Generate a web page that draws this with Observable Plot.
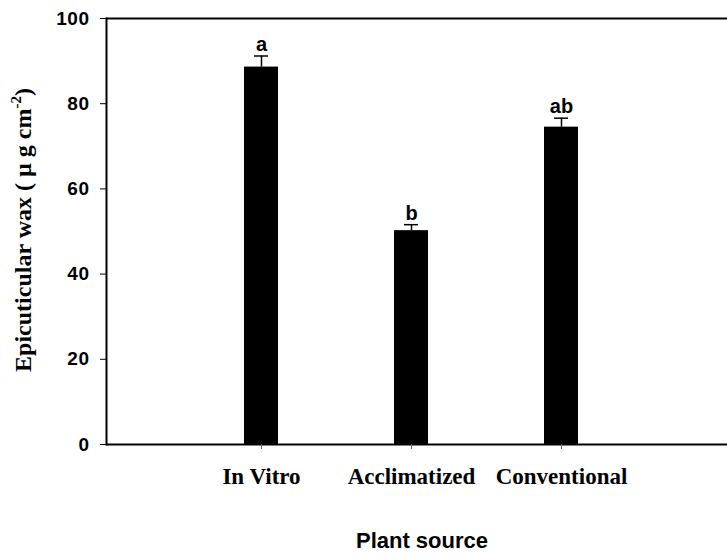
<!DOCTYPE html>
<html><head><meta charset="utf-8">
<script src="https://cdn.jsdelivr.net/npm/d3@7"></script>
<script src="https://cdn.jsdelivr.net/npm/@observablehq/plot@0.6"></script>
<style>
body{margin:0;background:#fff}
g[aria-label="y-axis tick label"] text{letter-spacing:0.5px}
</style>
</head><body><div id="chart"></div>
<script>
const categories = ["In Vitro", "Acclimatized", "Conventional"];
const means = [88.6, 50.2, 74.5];
const errors = [2.6, 1.4, 2.1];
const letters = ["a", "b", "ab"];
const yTicks = [0, 20, 40, 60, 80, 100];
const xTitle = "Plant source";

const data = categories.map((c, i) => ({source: c, mean: means[i], top: means[i] + errors[i], letter: letters[i]}));

const serif = "'Liberation Serif', 'Times New Roman', serif";
const sans = "'Liberation Sans', Arial, sans-serif";

const chart = Plot.plot({
  width: 727,
  height: 554,
  marginLeft: 106,
  marginRight: 0,
  marginTop: 18,
  marginBottom: 110,
  style: {background: "#fff", color: "#000"},
  x: {type: "band", domain: categories, range: [243, 578], paddingInner: 0.774, paddingOuter: 0},
  y: {domain: [0, 100]},
  marks: [
    Plot.barY(data, {x: "source", y: "mean", fill: "#000"}),
    Plot.ruleX(data, {x: "source", y1: "mean", y2: "top", stroke: "#000", strokeWidth: 1.5}),
    Plot.tickY(data, {x: "source", y: "top", stroke: "#000", strokeWidth: 1.5, insetLeft: 10, insetRight: 10}),
    Plot.text(data, {x: "source", y: "top", text: "letter", lineAnchor: "bottom", dy: -5, fontSize: 20, fontWeight: "bold", fontFamily: sans, fill: "#000"}),
    Plot.ruleY([0, 100], {stroke: "#000", strokeWidth: 2}),
    Plot.frame({anchor: "left", stroke: "#000", strokeWidth: 2}),
    Plot.axisY({ticks: yTicks, tickSize: 6, tickPadding: 11, fontSize: 19, fontWeight: "bold", fontFamily: sans, label: null, stroke: "#000"}),
    Plot.axisX({tickSize: 5, tickPadding: 18, fontSize: 23, fontWeight: "bold", fontFamily: serif, label: null, stroke: "#666"})
  ]
});
document.getElementById("chart").appendChild(chart);

const svg = d3.select(chart);
const yt = svg.append("text")
  .attr("transform", "translate(31,230) rotate(-90)")
  .attr("text-anchor", "middle")
  .attr("font-family", serif)
  .attr("font-weight", "bold")
  .attr("font-size", 24)
  .attr("fill", "#000");
yt.append("tspan").text("Epicuticular wax ( \u00b5 g cm");
yt.append("tspan").attr("font-size", 15).attr("dy", -10).text("-2");
yt.append("tspan").attr("dy", 10).text(")");

svg.append("text")
  .attr("x", 422).attr("y", 548)
  .attr("text-anchor", "middle")
  .attr("font-family", sans)
  .attr("font-weight", "bold")
  .attr("font-size", 22)
  .attr("fill", "#000")
  .text(xTitle);
</script>
</body></html>
